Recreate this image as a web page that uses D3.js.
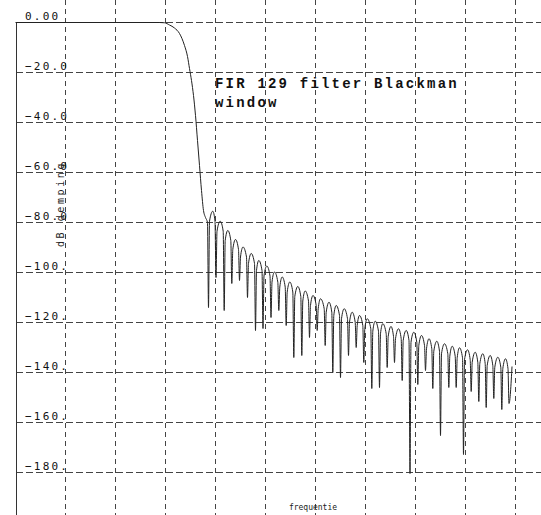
<!DOCTYPE html>
<html>
<head>
<meta charset="utf-8">
<script src="https://cdn.jsdelivr.net/npm/d3@7/dist/d3.min.js"></script>
<style>
  html, body { margin: 0; padding: 0; background: #fff; }
  svg { display: block; }
</style>
</head>
<body>
<div id="chart"></div>
<script>
// ---- data ----
const freq = [
  0.000, 0.144, 0.149, 0.154, 0.159, 0.164, 0.169, 0.172, 0.174, 0.176, 0.178, 0.180,
  0.182, 0.184, 0.186, 0.188, 0.190, 0.1920,
  0.1930, 0.1940, 0.1973, 0.1995,
  0.2005, 0.2015, 0.2047, 0.2077,
  0.2087, 0.2097, 0.2123, 0.2153,
  0.2163, 0.2173, 0.2200, 0.2230,
  0.2240, 0.2250, 0.2275, 0.2310,
  0.2320, 0.2330, 0.2357, 0.2390,
  0.2400, 0.2410, 0.2433, 0.2465,
  0.2475, 0.2485, 0.2513, 0.2545,
  0.2555, 0.2565, 0.2590, 0.2623,
  0.2633, 0.2643, 0.2667, 0.2697,
  0.2707, 0.2717, 0.2743, 0.2773,
  0.2783, 0.2793, 0.2823, 0.2853,
  0.2863, 0.2873, 0.2897, 0.2930,
  0.2940, 0.2950, 0.2975, 0.3007,
  0.3017, 0.3027, 0.3050, 0.3087,
  0.3097, 0.3107, 0.3135, 0.3163,
  0.3173, 0.3183, 0.3207, 0.3240,
  0.3250, 0.3260, 0.3287, 0.3320,
  0.3330, 0.3340, 0.3367, 0.3397,
  0.3407, 0.3417, 0.3440, 0.3473,
  0.3483, 0.3493, 0.3517, 0.3553,
  0.3563, 0.3573, 0.3597, 0.3630,
  0.3640, 0.3650, 0.3673, 0.3707,
  0.3717, 0.3727, 0.3755, 0.3780,
  0.3790, 0.3800, 0.3830, 0.3857,
  0.3867, 0.3877, 0.3907, 0.3935,
  0.3945, 0.3955, 0.3983, 0.4013,
  0.4023, 0.4033, 0.4060, 0.4090,
  0.4100, 0.4110, 0.4135, 0.4163,
  0.4173, 0.4183, 0.4213, 0.4240,
  0.4250, 0.4260, 0.4290, 0.4323,
  0.4333, 0.4343, 0.4367, 0.4397,
  0.4407, 0.4417, 0.4440, 0.4470,
  0.4480, 0.4490, 0.4520, 0.4547,
  0.4557, 0.4567, 0.4597, 0.4623,
  0.4633, 0.4643, 0.4673, 0.4697,
  0.4707, 0.4717, 0.4747, 0.4773,
  0.4783, 0.4793, 0.4823, 0.4853,
  0.4863, 0.4873, 0.4900, 0.4925,
  0.4935, 0.4965
];
const gain = [
  0, 0, -0.1, -1.0, -2.2, -4.4, -9.2, -13.6, -18.4, -23.2, -29.2, -37.2,
  -47.2, -57.2, -67.2, -75.2, -78.0, -80.0,
  -114.0, -79.5, -75.5, -79.5,
  -102.0, -83.5, -79.5, -83.5,
  -115.2, -87.2, -83.2, -87.2,
  -104.4, -90.8, -86.8, -90.8,
  -103.2, -93.8, -89.8, -93.8,
  -110.0, -96.4, -92.4, -96.4,
  -123.2, -99.2, -95.2, -99.2,
  -122.4, -101.4, -97.4, -101.4,
  -118.0, -103.8, -99.8, -103.8,
  -115.2, -105.8, -101.8, -105.8,
  -121.2, -107.8, -103.8, -107.8,
  -134.0, -109.6, -105.6, -109.6,
  -133.2, -111.4, -107.4, -111.4,
  -126.0, -113.2, -109.2, -113.2,
  -123.2, -114.5, -110.5, -114.5,
  -129.2, -115.9, -111.9, -115.9,
  -140.0, -117.2, -113.2, -117.2,
  -142.0, -118.5, -114.5, -118.5,
  -133.2, -119.9, -115.9, -119.9,
  -130.0, -121.2, -117.2, -121.2,
  -136.0, -122.5, -118.5, -122.5,
  -146.4, -123.5, -119.5, -123.5,
  -146.0, -124.5, -120.5, -124.5,
  -138.0, -125.6, -121.6, -125.6,
  -136.0, -126.5, -122.5, -126.5,
  -143.2, -127.2, -123.2, -127.2,
  -180.4, -127.9, -123.9, -127.9,
  -144.8, -129.2, -125.2, -129.2,
  -139.2, -130.5, -126.5, -130.5,
  -146.4, -131.5, -127.5, -131.5,
  -165.2, -132.5, -128.5, -132.5,
  -146.0, -133.5, -129.5, -133.5,
  -146.0, -134.1, -130.1, -134.1,
  -172.8, -134.9, -130.9, -134.9,
  -147.6, -135.9, -131.9, -135.9,
  -151.6, -136.5, -132.5, -136.5,
  -154.0, -137.2, -133.2, -137.2,
  -150.4, -137.9, -133.9, -137.9,
  -154.8, -138.5, -134.5, -138.5,
  -152.4, -137.6
];
const yTicks = [0, -20, -40, -60, -80, -100, -120, -140, -160, -180];
const yTickLabels = ["0.00", "\u221220.0", "\u221240.0", "\u221260.0", "\u221280.0",
                     "\u2212100.", "\u2212120.", "\u2212140.", "\u2212160.", "\u2212180."];
const xGrid = [0.05, 0.10, 0.15, 0.20, 0.25, 0.30, 0.35, 0.40, 0.45, 0.50];
const titleLines = ["FIR 129 filter Blackman", "window"];
const yTitle = "dB demping";
const xTitle = "frequentie";

// ---- drawing ----
const W = 541, H = 515;
const svg = d3.select("#chart").append("svg")
  .attr("width", W).attr("height", H)
  .style("background", "#fff");

// d3 axes add a 0.5px offset themselves, so the scales sit on whole pixels
const x = d3.scaleLinear().domain([0, 0.5]).range([15, 515]);
const y = d3.scaleLinear().domain([0, -180]).range([22, 472]);

// vertical dashed grid
const gx = svg.append("g")
  .call(d3.axisTop(x).tickValues(xGrid).tickSize(-H).tickFormat(""));
gx.select(".domain").remove();
gx.selectAll(".tick line")
  .attr("stroke", "#444").attr("stroke-width", 1)
  .attr("stroke-dasharray", "5,4");

// horizontal dashed grid + labels
const gy = svg.append("g").attr("transform", "translate(16,0)")
  .call(d3.axisLeft(y).tickValues(yTicks).tickSize(-(W - 16))
    .tickFormat((d, i) => yTickLabels[i]));
gy.select(".domain").remove();
gy.selectAll(".tick line")
  .attr("stroke", "#444").attr("stroke-width", 1)
  .attr("stroke-dasharray", "7,3");
gy.selectAll(".tick text")
  .attr("x", 9).attr("dy", -2.5)
  .attr("text-anchor", "start")
  .attr("fill", "#111")
  .style("font-family", "'DejaVu Sans Mono', monospace")
  .style("font-size", "11px")
  .style("letter-spacing", "2.2px");

// left axis line
svg.append("line")
  .attr("x1", 16.5).attr("x2", 16.5)
  .attr("y1", y(0) + 0.5).attr("y2", H)
  .attr("stroke", "#333").attr("stroke-width", 1);

// response curve
const pts = freq.map((f, i) => [f, gain[i]]);
svg.append("path")
  .datum(pts)
  .attr("transform", "translate(0.5,0.5)")
  .attr("fill", "none")
  .attr("stroke", "#222")
  .attr("stroke-width", 1)
  .attr("d", d3.line().x(d => x(d[0])).y(d => y(d[1])).curve(d3.curveMonotoneX));

// annotation
svg.append("g").selectAll("text").data(titleLines).join("text")
  .attr("x", 215)
  .attr("y", (d, i) => 87.5 + i * 19.5)
  .attr("fill", "#111")
  .style("font-family", "'Liberation Mono', 'DejaVu Sans Mono', monospace")
  .style("font-weight", "bold")
  .style("font-size", "14px")
  .style("letter-spacing", "2.2px")
  .text(d => d);

// y title
svg.append("text")
  .attr("transform", "translate(64,204) rotate(-90)")
  .attr("text-anchor", "middle")
  .attr("fill", "#222")
  .style("font-family", "'DejaVu Sans Mono', monospace")
  .style("font-size", "10px")
  .style("letter-spacing", "2.6px")
  .text(yTitle);

// x title
svg.append("text")
  .attr("x", 313).attr("y", 510)
  .attr("text-anchor", "middle")
  .attr("fill", "#222")
  .style("font-family", "'DejaVu Sans Mono', monospace")
  .style("font-size", "8px")
  .text(xTitle);
</script>
</body>
</html>
